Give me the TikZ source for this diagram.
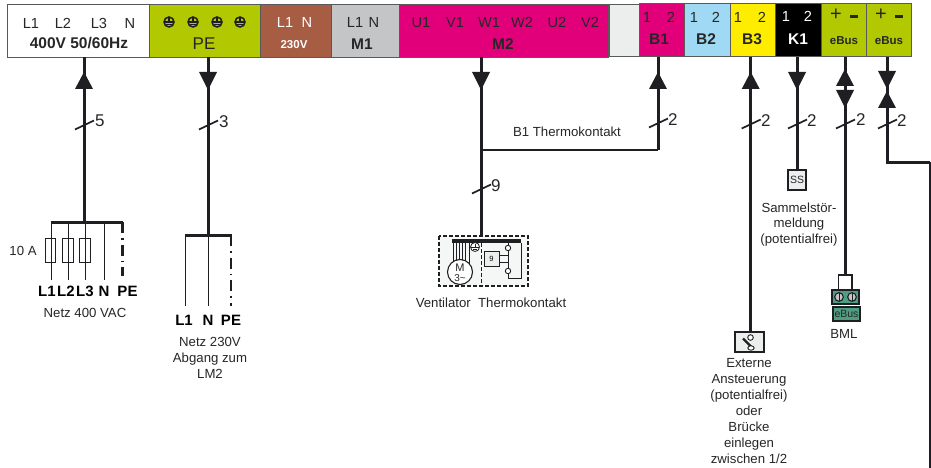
\documentclass[tikz,border=0pt]{standalone}
\usepackage{fontspec}
\setmainfont{Liberation Sans}
\definecolor{ink}{HTML}{1F1F23}
\definecolor{txt}{HTML}{262626}
\definecolor{lime}{HTML}{B2C800}
\definecolor{brown1}{HTML}{A65D44}
\definecolor{grey1}{HTML}{C4C5C7}
\definecolor{magenta1}{HTML}{E2007A}
\definecolor{pale}{HTML}{ECEEED}
\definecolor{sky}{HTML}{A0D9F4}
\definecolor{yel}{HTML}{FFED00}
\definecolor{teal1}{HTML}{4F9E82}
\tikzset{
  term/.style={draw=black!65,line width=.8pt,inner sep=0pt,minimum height=52.5pt},
  pin/.style={text=txt,inner sep=0pt,text height=10.5pt,text depth=0pt,font=\fontsize{14.6}{16}\selectfont},
  tag/.style={text=txt,inner sep=0pt,text height=11pt,text depth=0pt,font=\fontsize{15.5}{17}\selectfont\bfseries},
  smalltag/.style={text=txt,inner sep=0pt,text height=8.3pt,text depth=0pt,font=\fontsize{11.5}{13}\selectfont\bfseries},
  note/.style={text=txt,inner sep=0pt,align=center,font=\fontsize{13.2}{15.9}\selectfont},
  count/.style={text=txt,inner sep=0pt,anchor=west,font=\fontsize{17}{19}\selectfont},
  lead/.style={text=black,inner sep=0pt,text height=10.7pt,text depth=0pt,font=\fontsize{15}{17}\selectfont\bfseries},
  wire/.style={draw=ink,line width=3pt},
  thinwire/.style={draw=ink,line width=1pt},
  pedash/.style={draw=ink,line width=2.2pt,dash pattern=on 11pt off 5pt on 1.6pt off 5pt},
  head/.style={fill=ink},
  fuse/.style={draw=ink,line width=.9pt,inner sep=0pt,minimum height=24pt},
  devbox/.style={draw=ink,line width=1.2pt,fill=pale,inner sep=0pt}
}
\newcommand{\hdup}[2]{\fill[head] (#1-9,#2+17) -- (#1,#2) -- (#1+9,#2+17) -- cycle;}
\newcommand{\hddown}[2]{\fill[head] (#1-9,#2) -- (#1,#2+18) -- (#1+9,#2) -- cycle;}
\newcommand{\tick}[2]{\draw[draw=ink,line width=1.7pt] (#1-9,#2+4.5) -- (#1+10,#2-4.5);}
\newcommand{\earth}[2]{\draw[draw=ink,line width=1.5pt] (#1,#2) circle (5);
  \draw[draw=ink,line width=1.2pt] (#1-4.8,#2) -- (#1+4.8,#2) (#1,#2-4.3) -- (#1,#2+1) (#1-2.7,#2+2.6) -- (#1+2.7,#2+2.6);}
\begin{document}
\begin{tikzpicture}[x=1pt,y=-1pt]
\useasboundingbox (0,0) rectangle (931,468);
% terminal strip
\node[term,fill=white,minimum width=142pt] (main) at (78.5,30.8) {};
\node[term,fill=lime,minimum width=110.5pt] (pe) at (204.75,30.8) {};
\node[term,fill=brown1,minimum width=71pt] (n230) at (295.5,30.8) {};
\node[term,fill=grey1,minimum width=68.5pt] (m1) at (365.25,30.8) {};
\node[term,fill=magenta1,minimum width=208.5pt] (m2) at (503.75,30.8) {};
\node[term,fill=pale,minimum width=30pt] (blank) at (624,30.2) {};
\node[term,fill=magenta1,minimum width=45pt] (b1) at (661.5,30) {};
\node[term,fill=sky,minimum width=46pt] (b2) at (707,30) {};
\node[term,fill=yel,minimum width=45.5pt] (b3) at (752.75,30) {};
\node[term,fill=black,minimum width=45.5pt] (k1) at (798.25,30) {};
\node[term,fill=lime,minimum width=45.5pt] (eb1) at (843.75,30) {};
\node[term,fill=lime,minimum width=44.5pt] (eb2) at (888.75,30) {};
% terminal labels
\node[pin] (a1) at (31,23) {L1};
\node[pin] (a2) at (63,23) {L2};
\node[pin] (a3) at (99,23) {L3};
\node[pin] (a4) at (130,23) {N};
\node[tag] (a5) at (79,43.5) {400V 50/60Hz};
\earth{169}{22}\earth{193}{22}\earth{217}{22}\earth{240}{22}
\node[pin,text height=12.2pt,font=\fontsize{17}{19}\selectfont] (c1) at (204,43) {PE};
\node[pin,text=white] (d1) at (285,22) {L1};
\node[pin,text=white] (d2) at (307,22) {N};
\node[tag,text=white,text height=8.3pt,font=\fontsize{11.5}{13}\selectfont\bfseries] (d3) at (294,44) {230V};
\node[pin] (e1) at (355,22) {L1};
\node[pin] (e2) at (374,22) {N};
\node[tag] (e3) at (362,44) {M1};
\node[pin] (f1) at (421,22) {U1};
\node[pin] (f2) at (455,22) {V1};
\node[pin] (f3) at (489,22) {W1};
\node[pin] (f4) at (522,22) {W2};
\node[pin] (f5) at (557,22) {U2};
\node[pin] (f6) at (590,22) {V2};
\node[tag] (f7) at (503,44) {M2};
\node[pin] (g1) at (647,17) {1};
\node[pin] (g2) at (671,17) {2};
\node[tag] (g3) at (659,39.5) {B1};
\node[pin] (h1) at (694,17) {1};
\node[pin] (h2) at (716,17) {2};
\node[tag] (h3) at (706,39.5) {B2};
\node[pin] (i1) at (738,17) {1};
\node[pin] (i2) at (762,17) {2};
\node[tag] (i3) at (752,39.5) {B3};
\node[pin,text=white] (j1) at (786,16) {1};
\node[pin,text=white] (j2) at (808,16) {2};
\node[tag,text=white] (j3) at (798,39.5) {K1};
\node[pin,text height=10pt,font=\fontsize{20}{21}\selectfont] (k2) at (836,16) {+};
\fill[txt] (850,15) rectangle (858,18);
\node[smalltag] (k4) at (844,40) {eBus};
\node[pin,text height=10pt,font=\fontsize{20}{21}\selectfont] (l2) at (881,16) {+};
\fill[txt] (895,15) rectangle (903,18);
\node[smalltag] (l4) at (889,40) {eBus};
% junctions
\coordinate (busA) at (84,222);
\coordinate (busB) at (208,235);
\coordinate (jM) at (481,150);
\coordinate (jB) at (658,150);
\coordinate (ssTop) at (797,170);
\coordinate (swTop) at (750.7,332);
\coordinate (bmlTop) at (845,275);
\coordinate (turn) at (887,162);
\coordinate (turn2) at (930.3,162);
\coordinate (exit) at (930.3,468);
\coordinate (dev) at (481,236);
% main wires
\draw[wire] (busA |- main.south) -- (busA);
\draw[wire] (busB |- pe.south) -- (busB);
\draw[wire] (jM |- m2.south) -- (dev);
\draw[wire,line width=2.6pt] (jM) -- (jB);
\draw[wire] (jB |- b1.south) -- (jB);
\draw[wire] (swTop |- b3.south) -- (swTop);
\draw[wire] (ssTop |- k1.south) -- (ssTop);
\draw[wire] (bmlTop |- eb1.south) -- (bmlTop);
\draw[wire] (turn |- eb2.south) -- (turn) -- (turn2);
\draw[wire,line width=1.8pt] (turn2) -- (exit);
% arrowheads
\hdup{84}{72}\hddown{208}{72}\hddown{481}{72}\hdup{658}{72}\hdup{750.7}{72}\hddown{797}{72}
\hdup{845}{69}\hddown{845}{90}\hddown{887}{71}\hdup{887}{91}
% ticks
\tick{84}{125}\node[count] (n5) at (95,121) {5};
\tick{208}{125}\node[count] (n3) at (219,122) {3};
\tick{658}{123}\node[count] (n2a) at (668,120) {2};
\tick{750.7}{124}\node[count] (n2b) at (761,121) {2};
\tick{797}{124}\node[count] (n2c) at (807,121) {2};
\tick{845}{124}\node[count] (n2d) at (856,120) {2};
\tick{887}{124}\node[count] (n2e) at (897,121) {2};
\tick{481}{189}\node[count] (n9) at (491,186) {9};
\node[note] (b1t) at (567,132) {B1 Thermokontakt};
% mains 400
\draw[wire] (50.5,222) -- (busA) -- (123,222);
\draw[thinwire] (51,222) -- (51,280);
\draw[thinwire] (68,222) -- (68,280);
\draw[thinwire] (85,222) -- (85,280);
\draw[thinwire] (104,222) -- (104,280);
\draw[pedash] (122.5,222) -- (122.5,276);
\node[fuse,minimum width=10.5pt] (fu1) at (50.3,250) {};
\node[fuse,minimum width=11pt] (fu2) at (67.7,250) {};
\node[fuse,minimum width=11pt] (fu3) at (85,250) {};
\node[note] (fa) at (23,250.5) {10 A};
\node[lead] (p1) at (47,291) {L1};
\node[lead] (p2) at (66,291) {L2};
\node[lead] (p3) at (85,291) {L3};
\node[lead] (p4) at (104,291) {N};
\node[lead] (p5) at (127.5,291) {PE};
\node[note] (net1) at (85,313) {Netz 400 VAC};
% mains 230
\draw[wire] (184.5,235) -- (busB) -- (231.5,235);
\draw[thinwire] (185,235) -- (185,306);
\draw[thinwire] (208,235) -- (208,306);
\draw[pedash] (231,235) -- (231,306);
\node[lead] (q1) at (184,320) {L1};
\node[lead] (q2) at (208,320) {N};
\node[lead] (q3) at (231,320) {PE};
\node[note] (net2) at (210,358) {Netz 230V\\Abgang zum\\LM2};
% fan unit
\draw[draw=ink,line width=1.2pt,dash pattern=on 4pt off 2pt,fill=pale!50] (439,236) rectangle (528,286);
\draw[draw=ink,line width=.9pt,dash pattern=on 4pt off 2pt] (481,243) -- (481,286);
\foreach \vx in {453,456,459,462,465}{\draw[draw=ink,line width=.8pt] (\vx,240) -- (\vx,262);}
\draw[draw=ink,line width=.8pt] (469,242) -- (469,265);
\fill[ink] (452,238.5) rectangle (521,243);
\draw[draw=ink,line width=1.1pt,fill=white] (460,272) circle (12.5);
\node[pin,text height=7.9pt,font=\fontsize{11}{12}\selectfont] (mot) at (460,267.5) {M};
\node[pin,text height=7.2pt,font=\fontsize{10}{11}\selectfont] (mot2) at (460,278) {3\textasciitilde};
\draw[draw=ink,line width=.8pt,fill=white] (475,247) circle (4.5);
\draw[draw=ink,line width=.7pt] (470.8,247) -- (479.2,247) (475,243.5) -- (475,248) (472.6,249) -- (477.4,249);
\draw[draw=ink,line width=.9pt] (508,243) -- (508,245.5) (508,251) -- (508,268) (499,255) -- (508,255) (499,262) -- (508,262);
\draw[draw=ink,line width=.9pt] (508,274) -- (508,278.5) -- (521,278.5) -- (521,243);
\draw[draw=ink,line width=.9pt,fill=white] (508,248) circle (2.7) (508,271) circle (2.7);
\node[draw=ink,line width=.9pt,fill=pale,inner sep=0pt,minimum width=15pt,minimum height=15pt,font=\fontsize{7.5}{8}\selectfont] (th) at (491.5,258.5) {9};
\node[note] (fanl) at (491,303) {Ventilator\ \ Thermokontakt};
% SS
\node[devbox,minimum width=18pt,minimum height=20pt,font=\fontsize{10.5}{12}\selectfont,text=txt] (ss) at (797,180) {SS};
\node[note] (sst) at (799,224.5) {Sammelstör-\\meldung\\(potentialfrei)};
% BML
\node[draw=ink,line width=1.1pt,fill=teal1,inner sep=0pt,minimum width=27pt,minimum height=14pt] (bmlc) at (845.5,297) {};
\draw[draw=ink,line width=1.3pt] (838.5,290) -- (838.5,275) -- (852,275) -- (852,290);
\draw[draw=ink,line width=1.1pt,fill=grey1] (839,297) circle (4.3) (852,297) circle (4.3);
\draw[draw=ink,line width=1pt] (839,293) -- (839,301) (852,293) -- (852,301);
\node[draw=ink,line width=1.1pt,fill=teal1,inner sep=0pt,minimum width=27pt,minimum height=14pt,text=txt,font=\fontsize{10.5}{12}\selectfont] (bmle) at (846.5,314) {eBus};
\node[note] (bml) at (844,334) {BML};
% switch
\node[devbox,minimum width=29pt,minimum height=20pt] (sw) at (749.5,342) {};
\draw[draw=ink,line width=2.4pt] (743,338.5) -- (751.5,347);
\draw[draw=ink,line width=.9pt,fill=white] (750.5,337.5) circle (2.8);
\draw[draw=ink,line width=.9pt,fill=white] (751,348) ellipse (3.2 and 2.2);
\node[note] (swt) at (749,411) {Externe\\Ansteuerung\\(potentialfrei)\\oder\\Brücke\\einlegen\\zwischen 1/2};
\end{tikzpicture}
\end{document}
